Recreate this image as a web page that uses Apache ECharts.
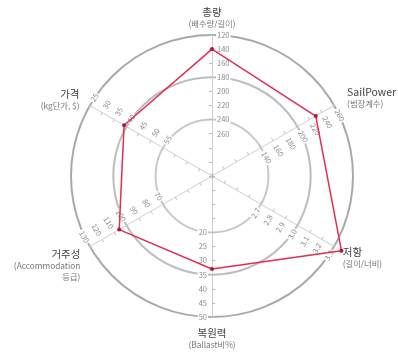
<!DOCTYPE html>
<html>
<head>
<meta charset="utf-8">
<script src="https://cdn.jsdelivr.net/npm/echarts@6/dist/echarts.min.js"></script>
<style>
  html, body { margin: 0; padding: 0; background: #fff; }
  #chart { width: 398px; height: 356px; }
</style>
</head>
<body>
<div id="chart"></div>
<script>
// Six performance axes, listed counter-clockwise from the top.
const axisNames = ['총량', '가격', '거주성', '복원력', '저항', 'SailPower'];
const axisNotes = ['(배수량/길이)', '(kg단가, $)', '(Accommodation\n등급)', '(Ballast비%)', '(길이/너비)', '(범장계수)'];

// Value at the centre and at the outer ring of each axis (some axes run "better outward" = smaller).
const centerValues = [320, 75, 30, 0, 2.3, 60];
const outerValues = [120, 25, 130, 50, 3.3, 260];

// Printed tick labels on each axis.
const tickLabels = [
  [120, 140, 160, 180, 200, 220, 240, 260],
  [25, 30, 35, 40, 45, 50, 55],
  [70, 80, 90, 100, 110, 120, 130],
  [20, 25, 30, 35, 40, 45, 50],
  [2.7, 2.8, 2.9, 3.0, 3.1, 3.2, 3.3],
  [140, 160, 180, 200, 220, 240, 260]
];
const tickDecimals = [0, 0, 0, 0, 1, 0];

// The boat's scores.
const boatValues = [140, 39, 106, 33, 3.36, 230];

// Tick labels sit on the clockwise side of each axis, turned square to it.
const labelRotate = [0, 60, -60, 0, 60, -60];
const labelAlign = ['left', 'left', 'right', 'right', 'right', 'left'];

// Extra room above some axis names so the block sits lower.
const namePadTop = [0, 0, 26, 0, 12, 0];
const nameGaps = [6, 12, 11, 10, 10, 15];

const FONT = '"Noto Sans CJK KR", "Noto Sans", sans-serif';

// Axes whose values shrink outward are handled by negating them.
const inverted = centerValues.map((c, i) => c > outerValues[i]);
const toAxis = (v, i) => (inverted[i] ? -v : v);

const indicators = axisNames.map((name, i) => {
  const lo = toAxis(centerValues[i], i);
  const hi = toAxis(outerValues[i], i);
  return {
    name: name,
    min: Math.min(lo, hi),
    max: Math.max(lo, hi),
    nameGap: nameGaps[i],
    nameTextStyle: { padding: [namePadTop[i], 0, 0, 0] },
    axisLabel: {
      rotate: labelRotate[i],
      align: labelAlign[i],
      verticalAlign: 'middle',
      formatter: function (v) {
        const real = inverted[i] ? -v : v;
        const hit = tickLabels[i].find(t => Math.abs(t - real) < 1e-6);
        return hit == null ? '' : hit.toFixed(tickDecimals[i]);
      }
    }
  };
});

// 11 rings (0..10); only a few are drawn.
const ringColors = [];
for (let k = 0; k <= 10; k++) {
  ringColors.push(k === 10 ? '#a9a9a9' : (k === 7 ? '#bdbdbd' : (k === 4 ? '#c8c8c8' : 'rgba(0,0,0,0)')));
}

const chart = echarts.init(document.getElementById('chart'), null, { renderer: 'canvas' });
chart.setOption({
  backgroundColor: '#fff',
  animation: false,
  textStyle: { fontFamily: FONT },
  radar: {
    center: [212, 176],
    radius: 141,
    startAngle: 90,
    shape: 'circle',
    splitNumber: 10,
    indicator: indicators,
    nameGap: 10,
    axisName: {
      fontFamily: FONT,
      formatter: function (name) {
        const i = axisNames.indexOf(name);
        const notes = axisNotes[i].split('\n').map(s => '{s|' + s + '}').join('\n');
        return '{t|' + name + '}\n' + notes;
      },
      rich: {
        t: { fontSize: 10.5, color: '#444', lineHeight: 12, fontFamily: FONT },
        s: { fontSize: 8.3, color: '#777', lineHeight: 11, fontFamily: FONT }
      }
    },
    axisLine: { show: true, lineStyle: { color: '#cfcfcf', width: 1 } },
    axisTick: { show: true, length: 3, lineStyle: { color: '#bbb', width: 1 } },
    axisLabel: {
      show: true,
      fontSize: 7.5,
      color: '#8a8a8a',
      margin: -4,
      fontFamily: FONT,
      backgroundColor: '#fff',
      padding: [0, 1]
    },
    splitLine: { show: true, lineStyle: { color: ringColors, width: 2 } },
    splitArea: { show: false }
  },
  series: [{
    type: 'radar',
    symbol: 'circle',
    symbolSize: 4,
    itemStyle: { color: '#b0153a' },
    lineStyle: { color: '#e02d55', width: 1.5 },
    data: [{ value: boatValues.map(toAxis), name: 'boat' }]
  }]
});
</script>
</body>
</html>
